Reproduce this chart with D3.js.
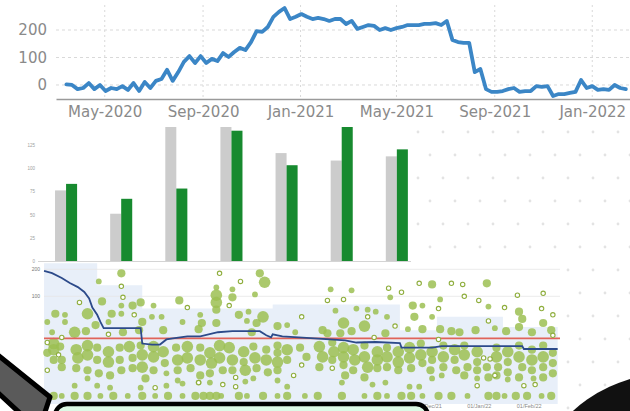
<!DOCTYPE html>
<html><head><meta charset="utf-8">
<script src="https://cdn.jsdelivr.net/npm/d3@7"></script>
<style>body{margin:0;background:#fff}svg{display:block}</style>
</head><body>
<svg id="c" width="630" height="411"></svg>
<script>
// ===== Top line chart (weekly values) =====
const lineStart = "2020-03-14";
const lineValues = [2,0,-15,-11,7,-15,0,-22,-11,-15,-4,-18,7,-22,11,-11,15,22,55,15,47,84,105,80,105,80,95,87,116,102,120,135,127,156,196,193,211,248,266,280,240,248,258,248,240,
244,240,233,240,240,222,233,204,211,218,215,200,207,200,207,211,218,218,218,222,222,225,218,233,164,156,153,153,47,58,-15,-25,-25,-22,-15,-11,-25,-22,-22,-4,-7,-4,-40,-33,-33,-29,-25,18,-11,-4,-18,-15,-18,0,-11,-15];
const lineYTicks = [0,100,200];
const lineDomain = ["2020-03-01","2022-03-15"];

// ===== Middle bar chart =====
const barCategories = ["1","2","3","4","5","6","7"];
const barSeries = ["previous","current"];
const barPrevious = [76,51,150,152,116,108,112.5];
const barCurrent = [83,67,78,140,103,148,120];
const barYTicks = [0,25,50,75,100,125];

// ===== Bottom bubble / run chart =====
const spcStart = "2021-04-01";
const spcXTicks = ["2021-04-01","2021-12-01","2022-01-01","2022-02-01"];
const spcYTicks = [0,100,200];
const spcMean = 59;
// [day offset, value, weight]
const spcBubbles = [
[53,185,2],[39,155,1],[142,152,4],[139,185,2],[122,126,1],[112,133,1],[112,104,4],[112,94,4],[112,87,2],[136,107,1],[122,99,2],[89,96,2],[41,95,2],[60,91,2],[65,94,2],[53,91,1],[73,91,1],[132,85,1],[12,83,2],[18,82,1],[32,83,4],[47,83,2],[53,83,1],[72,80,1],[78,80,1],[102,82,1],[126,82,2],[141,80,4],[7,75,1],[18,75,1],[37,72,2],[45,75,1],[66,75,2],[91,75,1],[103,74,2],[112,74,2],[131,76,1],[137,74,2],[150,71,2],[156,72,1],[10,65,1],[24,65,4],[31,66,2],[54,65,2],[64,67,2],[79,67,2],[101,68,2],[134,65,2],[161,65,1],
[11,54,4],[11,48,4],[7,45,2],[15,51,2],[16,38,2],[11,38,2],[16,31,2],[25,48,4],[26,40,4],[25,30,2],[32,52,4],[32,43,4],[32,28,2],[38,50,2],[38,38,2],[39,25,2],[45,46,4],[45,36,4],[46,23,2],[52,50,2],[52,38,2],[53,28,2],[58,51,4],[60,40,2],[60,30,2],[65,52,2],[66,43,4],[66,31,4],[68,20,2],[73,51,4],[73,41,4],[73,28,2],[79,46,4],[80,35,2],[81,25,1],[87,50,2],[88,38,4],[88,28,2],[88,18,1],[94,51,4],[94,40,4],[96,30,2],[102,50,2],[102,38,4],[102,23,2],[101,16,1],[108,45,4],[109,35,4],[108,25,2],[114,52,4],[114,40,4],[116,28,2],[120,50,4],[122,38,4],[122,28,2],[129,46,4],[129,36,2],[130,28,4],[135,51,2],[136,40,4],[137,30,2],[143,48,2],[143,38,4],[144,26,2],[150,52,2],[150,45,2],[150,36,4],[150,28,2],[156,48,4],[156,38,2],[164,50,2],[168,41,2],
[24,13,1],[32,20,1],[38,13,1],[46,11,1],[65,11,1],[81,13,1],[91,15,1],[108,16,1],[130,17,1],[135,20,1],[150,18,1],[156,12,1],
[11,3,2],[16,3,1],[24,3,2],[32,3,2],[40,3,1],[48,3,2],[57,3,1],[66,3,2],[74,3,1],[82,3,2],[91,3,1],[99,3,2],[104,3,2],[108,3,2],[112,3,2],[115,3,1],[126,3,2],[131,3,1],[141,3,2],[150,3,1],[156,3,2],[167,3,1],
[246,144,2],[280,148,2],[183,126,1],[196,122,1],[220,99,1],[251,97,1],[186,86,1],[199,88,1],[206,87,1],[211,85,1],[234,91,2],[240,91,1],[281,90,1],[300,85,2],[218,80,1],[235,80,2],[246,80,1],[302,78,2],[191,74,4],[204,71,4],[231,68,1],[240,68,2],[251,68,2],[258,66,2],[263,65,2],[273,67,2],[285,69,1],[292,66,2],[300,70,2],[308,65,2],[315,74,2],[320,67,2],[178,67,2],[181,64,2],[189,64,2],[196,66,2],[217,64,2],
[176,51,4],[178,41,4],[176,31,2],[184,55,2],[185,46,4],[184,38,2],[191,50,4],[191,41,4],[191,33,2],[192,23,2],[197,48,4],[198,38,4],[197,28,2],[204,52,2],[204,41,4],[206,31,4],[204,21,2],[212,46,4],[212,38,4],[212,30,2],[218,50,2],[218,41,4],[218,31,2],[217,16,1],[225,46,4],[225,36,4],[225,28,2],[232,50,4],[232,40,4],[233,30,2],[232,12,1],[239,54,2],[239,43,4],[240,35,2],[238,12,1],[246,46,4],[246,38,2],[245,28,2],[246,20,1],[253,52,2],[253,41,4],[253,31,2],[252,23,1],[260,48,4],[260,38,2],[261,28,2],[266,52,2],[266,43,4],[268,31,2],[266,23,2],[274,46,4],[274,36,2],[274,28,2],[274,20,1],[280,31,2],[281,21,2],[286,50,2],[286,41,4],[287,31,2],[286,23,2],[293,46,4],[293,36,2],[293,26,2],[293,19,1],[300,52,2],[300,41,4],[302,31,2],[300,21,2],[308,48,2],[308,38,4],[308,28,2],[309,20,1],[315,52,2],[315,41,4],[315,31,2],[315,21,2],[321,45,2],[321,35,2],[321,25,2],
[190,16,1],[209,14,1],
[175,3,2],[190,3,2],[204,3,1],[212,3,2],[218,3,1],[227,3,2],[233,3,2],[240,3,1],[250,3,2],[258,3,2],[268,3,1],[281,3,2],[286,3,2],[291,3,1],[298,3,2],[305,3,2],[314,3,1],[320,3,2]
];
// [day offset, value]
const spcHollow = [[53,137],[127,155],[114,185],[27,94],[54,99],[61,82],[94,89],[120,91],[165,80],[16,60],[45,63],[7,55],[14,43],[7,28],[124,21],[124,12],[160,23],[165,33],[74,11],[101,16],[116,14],
[238,148],[258,148],[265,144],[219,130],[227,115],[181,96],[191,97],[266,100],[275,96],[299,104],[315,111],[250,88],[291,89],[314,88],[321,82],[206,80],[281,76],[223,71],[210,60],[250,58],[321,62],[278,40],[282,39],[184,30],[274,13],[285,23],[303,13],[310,14]];
const spcMedian = [[5,194],[10,186],[16,168],[21,149],[26,134],[30,116],[33,98],[35,89],[38,82],[40,75],[42,69],[65,69],[66,54],[72,53],[77,53],[81,58],[85,59],[94,61],[102,61],[113,65],[122,66],[139,66],[143,62],[146,60],[147,63],[153,61],[173,59],[192,57],[199,55],[211,55.5],[226,54.5],[227,50],[246,50],[252,51.5],[302,51.5],[303,48.7],[324,48.7]];
const spcUpper = [[5,222],[38,141],[66,88],[147,92],[226,67],[249,80],[290,70],[324,70]];

const svg = d3.select("#c");
const parse = d3.timeParse("%Y-%m-%d");

// ---------- decorative background dots ----------
const dots = [];
for (let j = 0; j < 13; j++) for (let i = 0; i < 10; i++) {
  const x = 418 + i * 25 + (j % 2) * 12, y = 132 + j * 23;
  if (x < 564 && y > 258) continue;
  if (x < 412 && y < 262) continue;
  dots.push([x, y]);
}
svg.append("g").selectAll("circle").data(dots).join("circle")
  .attr("cx", d => d[0]).attr("cy", d => d[1]).attr("r", 1.4).attr("fill", "#e3e3e3");

// ---------- TOP LINE CHART ----------
const topG = svg.append("g");
const xTop = d3.scaleTime().domain(lineDomain.map(parse)).range([56, 650.6]);
const yTop = d3.scaleLinear().domain([-51, 291]).range([99, 5]);
const t0 = parse(lineStart);
const lineData = lineValues.map((v, i) => ({date: d3.timeDay.offset(t0, 7 * i), value: v}));
const monthTicks = xTop.ticks(d3.timeMonth.every(4));

topG.append("g").selectAll("line").data(lineYTicks).join("line")
  .attr("x1", 56).attr("x2", 630).attr("y1", d => yTop(d)).attr("y2", d => yTop(d))
  .attr("stroke", "#d9d9d9").attr("stroke-width", 1).attr("stroke-dasharray", "3,3");
topG.append("g").selectAll("line").data(monthTicks).join("line")
  .attr("x1", d => xTop(d)).attr("x2", d => xTop(d)).attr("y1", 5).attr("y2", 99)
  .attr("stroke", "#d9d9d9").attr("stroke-width", 1).attr("stroke-dasharray", "2,3");

const xAxisTop = topG.append("g").attr("transform", "translate(0,99)")
  .call(d3.axisBottom(xTop).tickValues(monthTicks).tickFormat(d3.timeFormat("%b-%Y")).tickSize(0).tickSizeOuter(0).tickPadding(7));
xAxisTop.select(".domain").attr("stroke", "#9a9a9a").attr("stroke-width", 1.5);
xAxisTop.selectAll("text").attr("fill", "#8a8a8a").style("font", "15px 'DejaVu Sans'");

const yAxisTop = topG.append("g").attr("transform", "translate(56,0)")
  .call(d3.axisLeft(yTop).tickValues(lineYTicks).tickSize(0).tickPadding(9));
yAxisTop.select(".domain").remove();
yAxisTop.selectAll("text").attr("fill", "#8a8a8a").style("font", "15px 'DejaVu Sans'");

topG.append("path").datum(lineData)
  .attr("fill", "none").attr("stroke", "#3b86c6").attr("stroke-width", 3.8)
  .attr("stroke-linejoin", "round").attr("stroke-linecap", "round")
  .attr("d", d3.line().x(d => xTop(d.date)).y(d => yTop(d.value)));

// ---------- MIDDLE BAR CHART ----------
svg.append("clipPath").attr("id", "barclip").append("rect")
  .attr("x", 0).attr("y", 127).attr("width", 630).attr("height", 136);
const bars = svg.append("g").attr("clip-path", "url(#barclip)");
const xBar = d3.scaleBand().domain(barCategories).range([38.5, 424.4]).paddingInner(0.6).paddingOuter(0.3);
const xSub = d3.scaleBand().domain(barSeries).range([0, xBar.bandwidth()]);
const yBar = d3.scaleLinear().domain([0, 125]).range([261.3, 144.7]);
const barColor = d3.scaleOrdinal().domain(barSeries).range(["#cccccc", "#178a2f"]);
const barRows = barCategories.map((c, i) => ({cat: c, vals: [
  {s: "previous", v: barPrevious[i]}, {s: "current", v: barCurrent[i]}]}));

const yAxisBar = bars.append("g").attr("transform", "translate(38,0)")
  .call(d3.axisLeft(yBar).tickValues(barYTicks).tickSize(0).tickPadding(3));
yAxisBar.select(".domain").remove();
yAxisBar.selectAll("text").attr("fill", "#a0a0a0").style("font", "4.5px 'Liberation Sans'");

bars.append("g").selectAll("g").data(barRows).join("g")
  .attr("transform", d => `translate(${xBar(d.cat)},0)`)
  .selectAll("rect").data(d => d.vals).join("rect")
  .attr("x", d => xSub(d.s)).attr("width", xSub.bandwidth())
  .attr("y", d => yBar(d.v)).attr("height", d => yBar(0) - yBar(d.v))
  .attr("fill", d => barColor(d.s));
bars.append("line").attr("x1", 38).attr("x2", 411).attr("y1", 261.5).attr("y2", 261.5)
  .attr("stroke", "#d4d4d4").attr("stroke-width", 1);

// ---------- BOTTOM BUBBLE CHART ----------
const s0 = parse(spcStart);
const xS = d3.scaleTime().domain([s0, d3.timeDay.offset(s0, 327)]).range([36, 562.5]);
const yS = d3.scaleLinear().domain([-5, 0, 100, 200, 222]).range([404.1, 399, 296.3, 269.3, 263.3]);
const rS = d3.scaleSqrt().domain([0, 4]).range([0, 5.8]);
const dx = d => xS(d3.timeDay.offset(s0, d));

const bot = svg.append("g");
bot.append("path").datum(spcUpper)
  .attr("fill", "#e8eff9")
  .attr("d", d3.area().curve(d3.curveStepAfter).x(d => dx(d[0])).y0(yS(-5)).y1(d => yS(d[1])));
bot.append("g").selectAll("line").data([100, 200]).join("line")
  .attr("x1", 44).attr("x2", 560).attr("y1", d => yS(d)).attr("y2", d => yS(d))
  .attr("stroke", "#e6e6e6").attr("stroke-width", 0.8);

const yAxisS = bot.append("g").attr("transform", "translate(43,0)")
  .call(d3.axisLeft(yS).tickValues(spcYTicks).tickSize(0).tickPadding(3));
yAxisS.select(".domain").remove();
yAxisS.selectAll("text").attr("fill", "#777").style("font", "5px 'Liberation Sans'");

const xAxisS = bot.append("g").attr("transform", "translate(0,402)")
  .call(d3.axisBottom(xS).tickValues(spcXTicks.map(parse)).tickFormat(d3.timeFormat("%d/%b/%y")).tickSize(0).tickPadding(2));
xAxisS.select(".domain").remove();
xAxisS.selectAll("text").attr("fill", "#888").style("font", "5.5px 'Liberation Sans'");

bot.append("g").selectAll("circle").data(spcBubbles).join("circle")
  .attr("cx", d => dx(d[0])).attr("cy", d => yS(d[1])).attr("r", d => rS(d[2]))
  .attr("fill", "#9cc052").attr("fill-opacity", 0.85);

bot.append("line").attr("x1", 44).attr("x2", 560).attr("y1", yS(spcMean)).attr("y2", yS(spcMean))
  .attr("stroke", "#e0645a").attr("stroke-width", 1.8);

bot.append("path").datum(spcMedian)
  .attr("fill", "none").attr("stroke", "#2c4a8a").attr("stroke-width", 1.8)
  .attr("d", d3.line().x(d => dx(d[0])).y(d => yS(d[1])));

bot.append("g").selectAll("circle").data(spcHollow).join("circle")
  .attr("cx", d => dx(d[0])).attr("cy", d => yS(d[1])).attr("r", 2.2)
  .attr("fill", "#fff").attr("stroke", "#8fae3e").attr("stroke-width", 1.1);

// ---------- decorative overlays ----------
svg.append("path").attr("d", "M-6,352 L50,397 L44,415 L22,415 L-6,389 Z")
  .attr("fill", "#5a5a5a").attr("stroke", "#000").attr("stroke-width", 5).attr("stroke-linejoin", "round");
svg.append("rect").attr("x", 55).attr("y", 404).attr("width", 373).attr("height", 40).attr("rx", 12)
  .attr("fill", "#dcfae6").attr("stroke", "#000").attr("stroke-width", 4.5);
svg.append("ellipse").attr("cx", 690).attr("cy", 470).attr("rx", 145).attr("ry", 100).attr("fill", "#111");
</script>
</body></html>
